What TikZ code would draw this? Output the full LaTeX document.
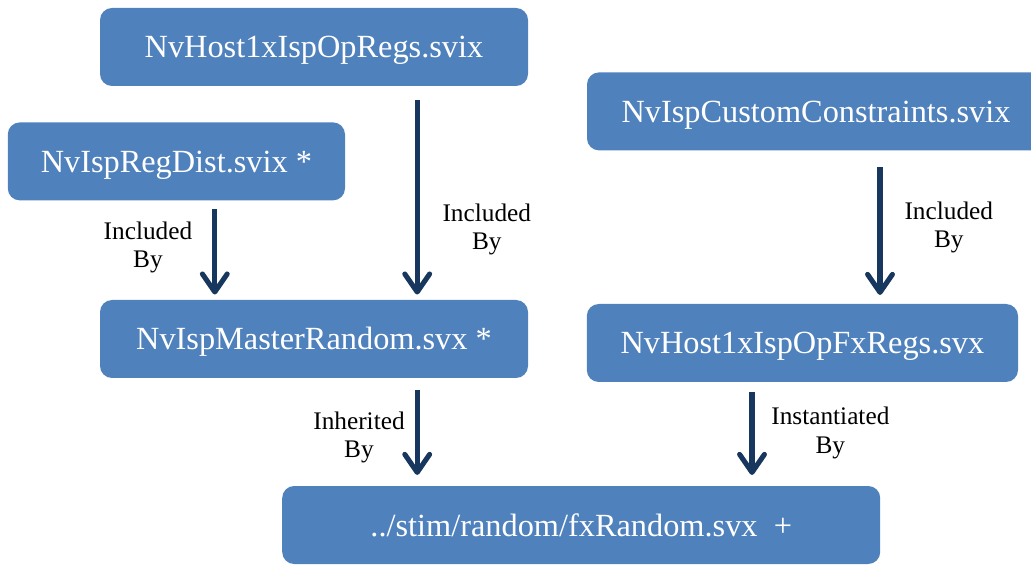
\documentclass[tikz,border=0pt]{standalone}
\usepackage{fontspec}
\setmainfont{Liberation Serif}
\usetikzlibrary{positioning, arrows.meta}
\definecolor{cblue}{RGB}{79,129,189}
\definecolor{cnavy}{RGB}{23,55,94}
\tikzset{
FileBox/.style={
	fill=cblue, text=white,
	rounded corners=0.3cm,
	minimum height=1.95cm,
	text height=0.6cm, text depth=0.05cm,
	font=\fontsize{23}{27}\selectfont
},
Link/.style={
	draw=cnavy, line width=3.6pt,
	-{Straight Barb[length=0.45cm, width=0.62cm, round]}
},
LinkText/.style={
	align=center, inner sep=0pt,
	font=\fontsize{18}{20}\selectfont
}
}

\begin{document}
\begin{tikzpicture}
	\useasboundingbox (0,0) rectangle (25.775,-14.125);
	\clip (0,0) rectangle (25.775,-14.125);

	\node[FileBox, minimum width=10.7cm] (host) at (7.85,-1.175) {NvHost1xIspOpRegs.svix};
	\node[FileBox, minimum width=8.43cm, below of=host, node distance=2.86cm, xshift=-3.44cm] (regdist) {NvIspRegDist.svix *};
	\node[FileBox, minimum width=10.7cm, below of=host, node distance=7.3cm] (master) {NvIspMasterRandom.svx *};
	\node[FileBox, minimum width=11.45cm, right of=host, node distance=12.55cm, yshift=-1.61cm] (custom) {NvIspCustomConstraints.svix};
	\node[FileBox, minimum width=10.78cm, below of=custom, node distance=5.79cm, xshift=-0.34cm] (fxregs) {NvHost1xIspOpFxRegs.svx};
	\node[FileBox, minimum width=14.95cm, below of=master, node distance=4.65cm, xshift=6.68cm] (fxrandom) {../stim/random/fxRandom.svx\ \ +};

	\draw[Link, shorten <=0.22cm, shorten >=0.13cm] ([xshift=0.96cm]regdist.south) -- ([xshift=0.96cm]regdist.south |- master.north)
		node[LinkText, pos=0.47, left=0.5cm] (incl1) {Included\\By};
	\draw[Link, shorten <=0.35cm, shorten >=0.13cm] ([xshift=2.58cm]host.south) -- ([xshift=2.58cm]host.south |- master.north)
		node[LinkText, pos=0.67, right=0.57cm] (incl2) {Included\\By};
	\draw[Link, shorten <=0.42cm, shorten >=0.22cm] ([xshift=1.6cm]custom.south) -- ([xshift=1.6cm]custom.south |- fxregs.north)
		node[LinkText, midway, right=0.55cm] (incl3) {Included\\By};
	\draw[Link, shorten <=0.3cm, shorten >=0.27cm] ([xshift=2.58cm]master.south) -- ([xshift=2.58cm]master.south |- fxrandom.north)
		node[LinkText, pos=0.55, left=0.25cm] (inher) {Inherited\\By};
	\draw[Link, shorten <=0.25cm, shorten >=0.27cm] ([xshift=-1.26cm]fxregs.south) -- ([xshift=-1.26cm]fxregs.south |- fxrandom.north)
		node[LinkText, pos=0.49, right=0.42cm] (inst) {Instantiated\\By};
\end{tikzpicture}
\end{document}
